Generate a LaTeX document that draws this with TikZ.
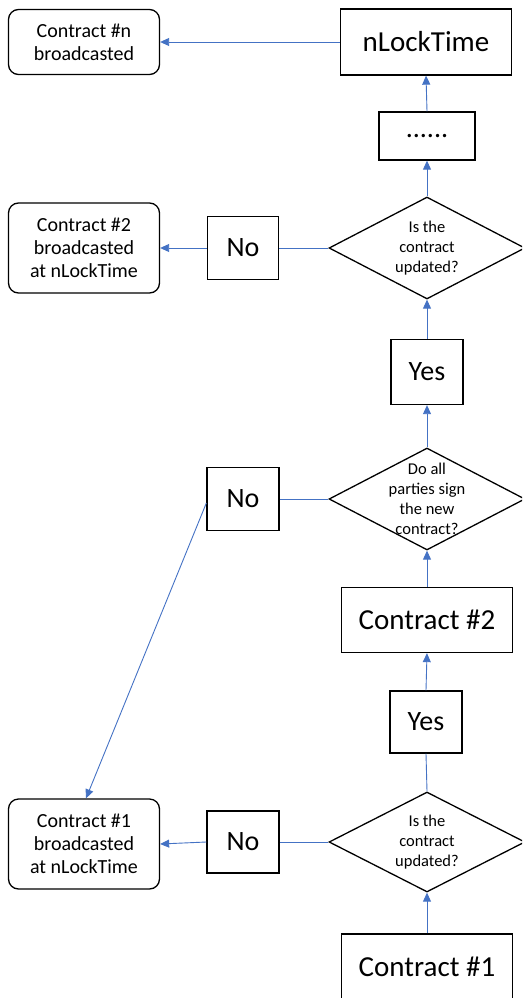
\documentclass[tikz,border=0pt]{standalone}
\usepackage{fontspec}
\setmainfont{Carlito}
\usetikzlibrary{arrows.meta,shapes.geometric}
\definecolor{lnblue}{HTML}{4472C4}
\begin{document}
\begin{tikzpicture}[x=1pt,y=-1pt,
  bigbox/.style={draw, line width=1.3pt, inner sep=0pt, minimum width=171pt, minimum height=66pt, font=\fontsize{29}{34}\selectfont},
  ynbox/.style={draw, line width=1.3pt, inner sep=0pt, minimum width=72pt, minimum height=64pt, font=\fontsize{28}{33}\selectfont},
  endbox/.style={draw, line width=1.3pt, rounded corners=10pt, inner sep=0pt, minimum width=151pt, align=center, font=\fontsize{20}{23}\selectfont},
  dia/.style={draw, diamond, line width=1.3pt, inner sep=0pt, minimum width=196pt, minimum height=102pt},
  dtext/.style={align=center, font=\fontsize{16.5}{20}\selectfont},
  flow/.style={draw=lnblue, line width=0.9pt, -{Triangle[length=9pt,width=8pt]}},
  link/.style={draw=lnblue, line width=0.9pt}]
\useasboundingbox (0,0) rectangle (522,998);
\clip (0,0) rectangle (522,998);
% nodes
\node[endbox, minimum height=65pt] (rn) at (84,42) {Contract \#n\\broadcasted};
\node[bigbox] (nlt) at (426,42) {nLockTime};
\node[ynbox, minimum width=96pt, minimum height=48pt] (dots) at (427,136) {......};
\node[dia] (d1) at (427,248) {};
\node[dtext] (t1) at (d1) {Is the\\contract\\updated?};
\node[ynbox, minimum width=71pt, minimum height=63pt] (n1) at (243,248) {No};
\node[endbox, minimum height=90pt] (r2) at (84,248) {Contract \#2\\broadcasted\\at nLockTime};
\node[ynbox, minimum height=65pt] (y1) at (427,372) {Yes};
\node[dia] (d2) at (427,499) {};
\node[dtext] (t2) at (d2) {Do all\\parties sign\\the new\\contract?};
\node[ynbox, minimum height=63pt] (n2) at (243,499) {No};
\node[bigbox, minimum height=65pt] (c2) at (427,620) {Contract \#2};
\node[ynbox, minimum height=62pt] (y2) at (426,722) {Yes};
\node[dia, minimum height=100pt] (d3) at (427,842) {};
\node[dtext] (t3) at (d3) {Is the\\contract\\updated?};
\node[ynbox, minimum height=62pt] (n3) at (243,842) {No};
\node[endbox, minimum height=90pt] (r1) at (84,844) {Contract \#1\\broadcasted\\at nLockTime};
\node[bigbox] (c1) at (427,967) {Contract \#1};
% connectors
\draw[flow] (nlt.west) -- (rn.east);
\draw[flow] (dots.north) -- (nlt.south);
\draw[flow] (d1.north) -- (dots.south);
\draw[link] (d1.west) -- (n1.east);
\draw[flow] (n1.west) -- (r2.east);
\draw[flow] (y1.north) -- (d1.south);
\draw[flow] (d2.north) -- (y1.south);
\draw[link] (d2.west) -- (n2.east);
\draw[flow] ([yshift=-4pt]n2.west) -- ([xshift=2pt]r1.north);
\draw[flow] (c2.north) -- (d2.south);
\draw[flow] (y2.north) -- (c2.south);
\draw[link] (d3.north) -- (y2.south);
\draw[link] (d3.west) -- (n3.east);
\draw[flow] (n3.west) -- (r1.east);
\draw[flow] (c1.north) -- (d3.south);
\end{tikzpicture}
\end{document}
